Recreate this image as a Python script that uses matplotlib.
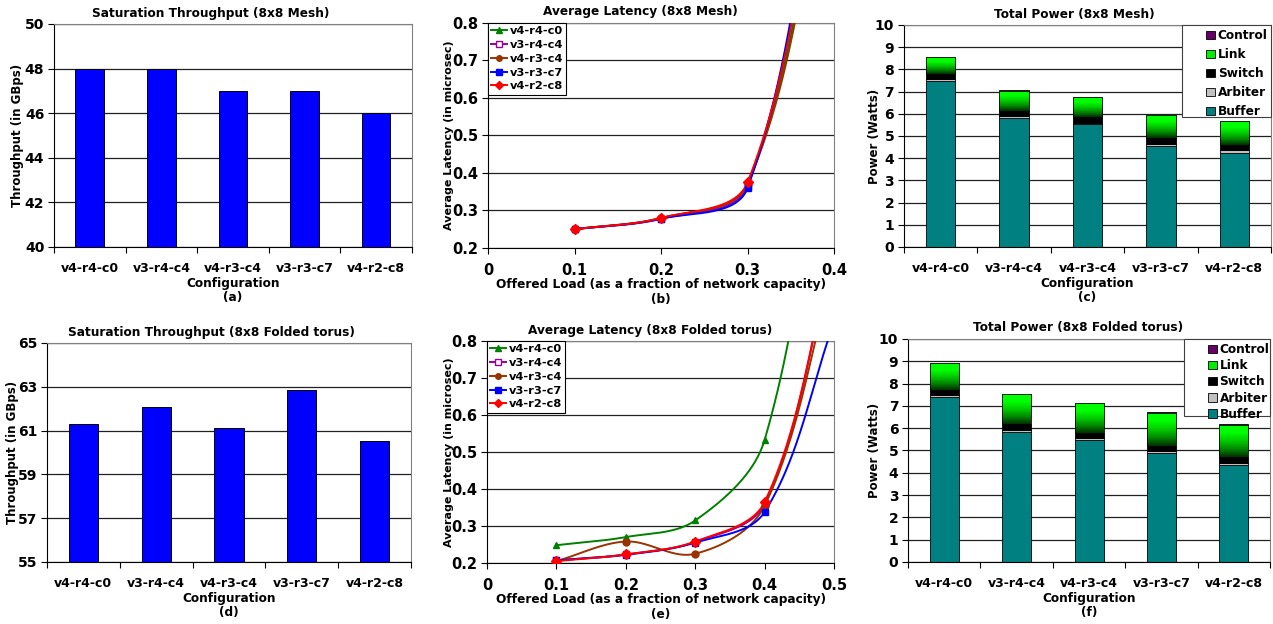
import numpy as np
import matplotlib
matplotlib.use('Agg')
import matplotlib.pyplot as plt
from matplotlib.colors import LinearSegmentedColormap
from matplotlib.lines import Line2D
from matplotlib.patches import Patch, Rectangle
from matplotlib.ticker import FormatStrFormatter

plt.rcParams['font.family'] = ['DejaVu Sans']
plt.rcParams['font.weight'] = 'bold'
plt.rcParams['axes.labelweight'] = 'bold'
plt.rcParams['axes.titleweight'] = 'bold'
plt.rcParams['font.size'] = 8.5

configs = ['v4-r4-c0', 'v3-r4-c4', 'v4-r3-c4', 'v3-r3-c7', 'v4-r2-c8']

# saturation throughput (GBps)
thr_mesh = [48, 48, 47, 47, 46]
thr_torus = [61.32, 62.09, 61.12, 62.87, 60.54]

# average latency (microsec) vs offered load
load_mesh = [0.1, 0.2, 0.3, 0.4]
lat_mesh = {
    'v4-r4-c0': [0.25, 0.280, 0.370, 1.40],
    'v3-r4-c4': [0.25, 0.278, 0.365, 1.50],
    'v4-r3-c4': [0.25, 0.280, 0.370, 1.35],
    'v3-r3-c7': [0.25, 0.278, 0.360, 1.55],
    'v4-r2-c8': [0.25, 0.280, 0.375, 1.45],
}
load_torus = [0.1, 0.2, 0.3, 0.4, 0.5]
lat_torus = {
    'v4-r4-c0': [0.248, 0.270, 0.315, 0.533, 1.60],
    'v3-r4-c4': [0.207, 0.223, 0.257, 0.360, 1.05],
    'v4-r3-c4': [0.205, 0.258, 0.225, 0.355, 1.00],
    'v3-r3-c7': [0.207, 0.222, 0.255, 0.338, 0.85],
    'v4-r2-c8': [0.205, 0.223, 0.258, 0.365, 1.05],
}

# power breakdown (Watts)
comps = ['Buffer', 'Arbiter', 'Switch', 'Link', 'Control']
pow_mesh = {
    'Buffer': [7.46, 5.83, 5.53, 4.56, 4.25],
    'Arbiter': [0.10, 0.07, 0.07, 0.09, 0.10],
    'Switch': [0.22, 0.21, 0.26, 0.26, 0.26],
    'Link': [0.76, 0.92, 0.88, 1.03, 1.06],
    'Control': [0.02, 0.02, 0.02, 0.02, 0.02],
}
pow_torus = {
    'Buffer': [7.40, 5.84, 5.48, 4.88, 4.34],
    'Arbiter': [0.10, 0.09, 0.09, 0.09, 0.11],
    'Switch': [0.22, 0.25, 0.21, 0.24, 0.25],
    'Link': [1.18, 1.33, 1.33, 1.49, 1.46],
    'Control': [0.02, 0.02, 0.02, 0.02, 0.02],
}

series_style = {
    'v4-r4-c0': dict(color='#008000', marker='^', mfc='#008000'),
    'v3-r4-c4': dict(color='#990099', marker='s', mfc='white'),
    'v4-r3-c4': dict(color='#993300', marker='o', mfc='#993300'),
    'v3-r3-c7': dict(color='#0000ff', marker='s', mfc='#0000ff'),
    'v4-r2-c8': dict(color='#ff0000', marker='D', mfc='#ff0000'),
}
comp_colors = {'Buffer': '#008080', 'Arbiter': '#c0c0c0', 'Switch': '#000000',
               'Link': '#00ee00', 'Control': '#660066'}
link_cmap = LinearSegmentedColormap.from_list(
    'link', ['#003000', '#008800', '#00cc00', '#00ff00', '#00ff00'])


def smooth(x, y, sx, sy, n=80):
    # smoothed line drawn in screen-like units so the curve bends like the original
    pts = np.column_stack([np.asarray(x) * sx, np.asarray(y) * sy])
    last = len(pts) - 1
    out = []
    for i in range(last):
        p1, p2 = pts[i], pts[i + 1]
        seg = np.linalg.norm(p2 - p1) / 3
        d1 = p2 - (pts[i - 1] if i > 0 else p1)
        d2 = (pts[i + 2] if i + 1 < last else p2) - p1
        c1 = p1 + d1 / np.linalg.norm(d1) * seg
        c2 = p2 - d2 / np.linalg.norm(d2) * seg
        t = np.linspace(0, 1, n)[:, None]
        out.append((1 - t) ** 3 * p1 + 3 * (1 - t) ** 2 * t * c1
                   + 3 * (1 - t) * t ** 2 * c2 + t ** 3 * p2)
    out = np.vstack(out)
    return out[:, 0] / sx, out[:, 1] / sy


def frame(ax, ysize=10):
    ax.spines['top'].set_color('#808080')
    ax.spines['right'].set_color('#808080')
    ax.spines['left'].set_color('black')
    ax.spines['bottom'].set_color('black')
    ax.yaxis.grid(True, color='#202020', lw=0.9)
    ax.set_axisbelow(True)
    ax.tick_params(axis='both', direction='out', length=4, width=0.8)
    ax.tick_params(axis='y', labelsize=ysize, pad=3)


def title(ax, text, xc):
    ax.text(xc, 1.02, text, transform=ax.transAxes, ha='center', va='bottom',
            fontsize=8.7, fontweight='bold')


def cat_axis(ax, label):
    ax.set_xlim(-0.5, 4.5)
    ax.set_xticks(np.arange(-0.5, 5, 1))
    ax.set_xticklabels([])
    ax.set_xticks(range(5), minor=True)
    ax.set_xticklabels(configs, minor=True)
    ax.tick_params(axis='x', which='minor', length=0, pad=11, labelsize=9)
    ax.set_xlabel(label, fontsize=8.7, labelpad=1, linespacing=1.15)


def throughput(ax, vals, lo, hi, step, ttl, label, ylx, txc):
    ax.bar(range(5), [v - lo for v in vals], bottom=lo, width=0.4,
           color='#0000ff', edgecolor='black', lw=0.7, zorder=2)
    ax.set_ylim(lo, hi)
    ax.set_yticks(np.arange(lo, hi + 0.1, step))
    frame(ax, 10)
    cat_axis(ax, label)
    ax.set_ylabel('Throughput (in GBps)', fontsize=8.5)
    ax.yaxis.set_label_coords(ylx, 0.5)
    title(ax, ttl, txc)


def latency(ax, loads, data, xmax, ttl, label, sx, sy, ylx, txc):
    for name, vals in data.items():
        st = series_style[name]
        cx, cy = smooth(loads, vals, sx, sy)
        ax.plot(cx, cy, color=st['color'], lw=1.4, zorder=3)
        ax.plot(loads, vals, ls='none', marker=st['marker'], ms=5,
                mfc=st['mfc'], mec=st['color'], zorder=4)
    ax.set_xlim(0, xmax)
    ax.set_ylim(0.2, 0.8)
    ticks = np.arange(0, xmax + 0.01, 0.1)
    ax.set_xticks(ticks)
    ax.set_xticklabels(['0'] + ['%.1f' % v for v in ticks[1:]])
    ax.set_yticks(np.arange(0.2, 0.81, 0.1))
    ax.yaxis.set_major_formatter(FormatStrFormatter('%.1f'))
    frame(ax, 10.5)
    ax.tick_params(axis='x', pad=7, labelsize=10.5)
    ax.set_xlabel(label, fontsize=8.7, labelpad=0, linespacing=1.15)
    ax.set_ylabel('Average Latency (in microsec)', fontsize=8)
    ax.yaxis.set_label_coords(ylx, 0.5)
    title(ax, ttl, txc)
    handles = [Line2D([], [], color=series_style[n]['color'], lw=1.4,
                      marker=series_style[n]['marker'], ms=4,
                      mfc=series_style[n]['mfc'], mec=series_style[n]['color'])
               for n in data]
    leg = ax.legend(handles, list(data), loc='upper left', fontsize=8.2,
                    borderaxespad=0, handlelength=1.4, handletextpad=0.2,
                    labelspacing=0.33, borderpad=0.3, fancybox=False,
                    framealpha=1)
    leg.get_frame().set_edgecolor('black')
    leg.get_frame().set_linewidth(0.8)


def power(ax, data, ttl, label, ylx, txc, box, spacing):
    bottom = np.zeros(5)
    for c in comps:
        vals = np.array(data[c])
        bars = ax.bar(range(5), vals, bottom=bottom, width=0.4,
                      color=comp_colors[c], edgecolor='black', lw=0.6, zorder=2)
        if c == 'Link':
            grad = np.linspace(0, 1, 100)[:, None]
            for b in bars:
                x0, y0 = b.get_x(), b.get_y()
                im = ax.imshow(grad, cmap=link_cmap, aspect='auto', origin='lower',
                               extent=(x0, x0 + b.get_width(), y0, y0 + b.get_height()),
                               zorder=2.5)
                im.set_clip_path(b)
                b.set_facecolor('none')
                b.set_zorder(2.6)
        bottom = bottom + vals
    ax.set_ylim(0, 10)
    ax.set_yticks(range(11))
    frame(ax, 10)
    cat_axis(ax, label)
    ax.set_ylabel('Power (Watts)', fontsize=8.5)
    ax.yaxis.set_label_coords(ylx, 0.5)
    title(ax, ttl, txc)
    bx, by, bw, bh = box
    ax.add_patch(Rectangle((bx, by), bw, bh, transform=ax.transAxes,
                           fc='white', ec='#404040', lw=0.8, zorder=5,
                           clip_on=False))
    handles = [Patch(facecolor=comp_colors[c], edgecolor='black', lw=0.6)
               for c in comps[::-1]]
    leg = ax.legend(handles, comps[::-1], loc='upper left', fontsize=8.7,
                    bbox_to_anchor=(bx + 0.055, by + bh), borderaxespad=0,
                    handlelength=0.7, handleheight=0.7, handletextpad=0.25,
                    labelspacing=spacing, borderpad=0.35, frameon=False)
    leg.set_zorder(6)


fig = plt.figure(figsize=(12.73, 6.24), dpi=100)
ax_a = fig.add_axes([0.0424, 0.6042, 0.2812, 0.3574])
ax_b = fig.add_axes([0.3834, 0.6026, 0.2718, 0.3606])
ax_c = fig.add_axes([0.7101, 0.6042, 0.2883, 0.3558])
ax_d = fig.add_axes([0.0369, 0.0994, 0.2859, 0.3510])
ax_e = fig.add_axes([0.3826, 0.0978, 0.2726, 0.3558])
ax_f = fig.add_axes([0.7133, 0.0994, 0.2844, 0.3574])

throughput(ax_a, thr_mesh, 40, 50, 2, 'Saturation Throughput (8x8 Mesh)',
           'Configuration\n(a)', -0.085, 0.437)
throughput(ax_d, thr_torus, 55, 65, 2, 'Saturation Throughput (8x8 Folded torus)',
           'Configuration\n(d)', -0.077, 0.453)
latency(ax_b, load_mesh, lat_mesh, 0.4, 'Average Latency (8x8 Mesh)',
        'Offered Load (as a fraction of network capacity)\n(b)',
        865, 375, -0.099, 0.439)
latency(ax_e, load_torus, lat_torus, 0.5, 'Average Latency (8x8 Folded torus)',
        'Offered Load (as a fraction of network capacity)\n(e)',
        694, 370, -0.096, 0.470)
power(ax_c, pow_mesh, 'Total Power (8x8 Mesh)', 'Configuration\n(c)',
      -0.063, 0.464, (0.757, 0.586, 0.243, 0.414), 0.5)
power(ax_f, pow_torus, 'Total Power (8x8 Folded torus)', 'Configuration\n(f)',
      -0.075, 0.470, (0.762, 0.655, 0.238, 0.345), 0.26)

fig.savefig('out.png', dpi=100)
